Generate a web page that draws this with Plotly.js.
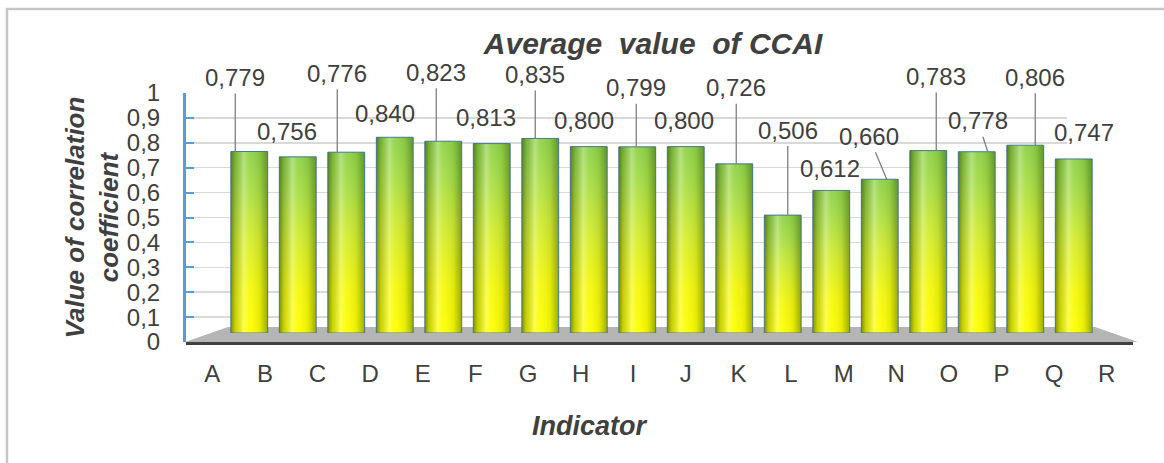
<!DOCTYPE html>
<html>
<head>
<meta charset="utf-8">
<script src="https://cdn.plot.ly/plotly-3.0.1.min.js"></script>
<style>
  html, body { margin: 0; padding: 0; background: #ffffff; }
  #chart { width: 1164px; height: 463px; }
</style>
</head>
<body>
<svg width="0" height="0" style="position:absolute">
  <defs>
    <linearGradient id="gV" x1="0" y1="1" x2="0" y2="0">
      <stop offset="0" stop-color="#ffff00"/>
      <stop offset="0.25" stop-color="#f6f90e"/>
      <stop offset="0.55" stop-color="#d2ec32"/>
      <stop offset="0.8" stop-color="#a9de48"/>
      <stop offset="1" stop-color="#8fd24a"/>
    </linearGradient>
    <linearGradient id="gH" x1="0" y1="0" x2="1" y2="0">
      <stop offset="0" stop-color="#2a4a00" stop-opacity="0.6"/>
      <stop offset="0.12" stop-color="#2a4a00" stop-opacity="0.25"/>
      <stop offset="0.35" stop-color="#ffffff" stop-opacity="0.3"/>
      <stop offset="0.5" stop-color="#ffffff" stop-opacity="0.05"/>
      <stop offset="0.78" stop-color="#2a4a00" stop-opacity="0.1"/>
      <stop offset="1" stop-color="#2a4a00" stop-opacity="0.45"/>
    </linearGradient>
  </defs>
</svg>
<div id="chart"></div>
<script>
// ---- data ----
const categories = ["A","B","C","D","E","F","G","H","I","J","K","L","M","N","O","P","Q","R"];
const values = [0.779, 0.756, 0.776, 0.840, 0.823, 0.813, 0.835, 0.800, 0.799, 0.800, 0.726, 0.506, 0.612, 0.660, 0.783, 0.778, 0.806, 0.747];
const valueLabels = ["0,779","0,756","0,776","0,840","0,823","0,813","0,835","0,800","0,799","0,800","0,726","0,506","0,612","0,660","0,783","0,778","0,806","0,747"];
const chartTitle = "Average\u00A0 value\u00A0 of CCAI";
const yTitle = "Value of correlation<br>coefficient";
const xTitle = "Indicator";

// ---- label placement (style only) ----
const labelLeader = [true,false,true,false,true,false,true,false,true,false,true,true,false,true,true,true,true,false];
const labelDx = [-14,-11,-9,-10,-7,-6,-5,-5,-1,-2,2,5,-1,7,8,11,10,10];
const labelAx = [0,0,0,0,0,0,0,0,0,0,0,0,0,-18,0,-10,0,0];
const labelAy = [-74,-25,-79,-24,-69,-26,-64,-26,-59,-26,-76,-85,-22,-43,-74,-31,-68,-26];

const W = 1164, H = 463;
const px = v => v / W;
const py = v => 1 - v / H;
const FONT = "Liberation Sans, Arial, sans-serif";
const TXT = "#404040";

const traces = [
  // grid / value axis subplot (hidden points)
  {type: "scatter", mode: "markers", x: categories, y: values, xaxis: "x", yaxis: "y",
   marker: {opacity: 0}, hoverinfo: "skip", showlegend: false},
  // category label axis subplot (hidden points)
  {type: "scatter", mode: "markers", x: categories, y: values, xaxis: "x2", yaxis: "y2",
   marker: {opacity: 0}, hoverinfo: "skip", showlegend: false},
  // bars: body colour
  {type: "bar", x: categories, y: values, xaxis: "x3", yaxis: "y3", width: 0.76,
   marker: {color: "#d2ec32", line: {width: 0}}, hoverinfo: "x+y", showlegend: false},
  // bars: cylinder shading + outline
  {type: "bar", x: categories, y: values, xaxis: "x3", yaxis: "y3", width: 0.76,
   marker: {color: "rgba(0,0,0,0)", line: {width: 1, color: "rgba(60,110,150,0.9)"}},
   hoverinfo: "skip", showlegend: false}
];

const annotations = values.map((v, i) => {
  const base = {
    x: categories[i], y: v, xref: "x3", yref: "y3",
    text: valueLabels[i],
    font: {family: FONT, size: 24, color: TXT},
    xshift: labelDx[i]
  };
  if (labelLeader[i]) {
    return Object.assign(base, {
      showarrow: true, arrowhead: 0, arrowwidth: 1.3, arrowcolor: "#7f7f7f",
      ax: labelAx[i], ay: labelAy[i], standoff: 0, borderpad: 2
    });
  }
  return Object.assign(base, {
    showarrow: false, xanchor: "center", yanchor: "middle", yshift: -labelAy[i]
  });
});
annotations.push({
  xref: "paper", yref: "paper", x: px(590), y: py(426),
  xanchor: "center", yanchor: "middle", showarrow: false,
  text: xTitle,
  font: {family: FONT, size: 27, color: TXT, weight: "bold", style: "italic"}
});

const layout = {
  width: W, height: H,
  margin: {l: 0, r: 0, t: 0, b: 0},
  paper_bgcolor: "#ffffff",
  plot_bgcolor: "rgba(0,0,0,0)",
  separators: ", ",
  font: {family: FONT, color: TXT},
  title: {
    text: chartTitle, x: px(653), xanchor: "center", y: py(43), yanchor: "middle",
    font: {family: FONT, size: 30, color: TXT, weight: "bold", style: "italic"}
  },
  showlegend: false,
  barmode: "overlay",
  xaxis: {
    domain: [px(186), px(1067)], anchor: "y", type: "category",
    range: [-0.5, categories.length - 0.5],
    showticklabels: false, showgrid: false, zeroline: false, showline: false, ticks: ""
  },
  yaxis: {
    domain: [py(342), py(93)], anchor: "x", range: [0, 1], dtick: 0.1,
    showgrid: true, gridcolor: "#d9d9d9", gridwidth: 1.5, zeroline: false,
    showline: true, linecolor: "#5b9bd5", linewidth: 3,
    ticks: "inside", ticklen: 8, tickwidth: 2, tickcolor: "#5b9bd5",
    ticklabelstandoff: 18,
    tickfont: {family: FONT, size: 24, color: TXT},
    title: {text: yTitle, standoff: 1,
            font: {family: FONT, size: 26, color: TXT, weight: "bold", style: "italic"}}
  },
  xaxis2: {
    domain: [px(186), px(1133)], anchor: "y2", type: "category",
    range: [-0.5, categories.length - 0.5],
    showgrid: false, zeroline: false, showline: true, linecolor: "#404040", linewidth: 3,
    ticks: "", ticklabelstandoff: 8,
    tickfont: {family: FONT, size: 24, color: TXT}
  },
  yaxis2: {
    domain: [py(342), py(93)], anchor: "x2", range: [0, 1], visible: false
  },
  xaxis3: {
    domain: [px(225), px(1098)], anchor: "y3", type: "category",
    range: [-0.5, categories.length - 0.5], visible: false
  },
  yaxis3: {
    domain: [py(333), py(100)], anchor: "x3", range: [0, 1], visible: false
  },
  shapes: [
    {type: "path", xref: "paper", yref: "paper", layer: "below",
     path: "M " + px(185) + " " + py(342) + " L " + px(1138) + " " + py(342) +
           " L " + px(1095) + " " + py(327) + " L " + px(228) + " " + py(327) + " Z",
     fillcolor: "#b5b5b5", line: {width: 0}},
    {type: "rect", xref: "paper", yref: "paper", layer: "below",
     x0: px(7), x1: 1.02, y0: -0.02, y1: py(9),
     fillcolor: "rgba(0,0,0,0)", line: {color: "#c6c6c6", width: 2.5}}
  ],
  annotations: annotations
};

Plotly.newPlot("chart", traces, layout, {displayModeBar: false, staticPlot: true}).then(gd => {
  const groups = gd.querySelectorAll(".barlayer .trace.bars");
  const fills = ["url(#gV)", "url(#gH)"];
  groups.forEach((g, k) => {
    g.querySelectorAll("path").forEach(p => {
      p.style.fill = fills[k] || p.style.fill;
      p.style.fillOpacity = 1;
    });
  });
});
</script>
</body>
</html>
